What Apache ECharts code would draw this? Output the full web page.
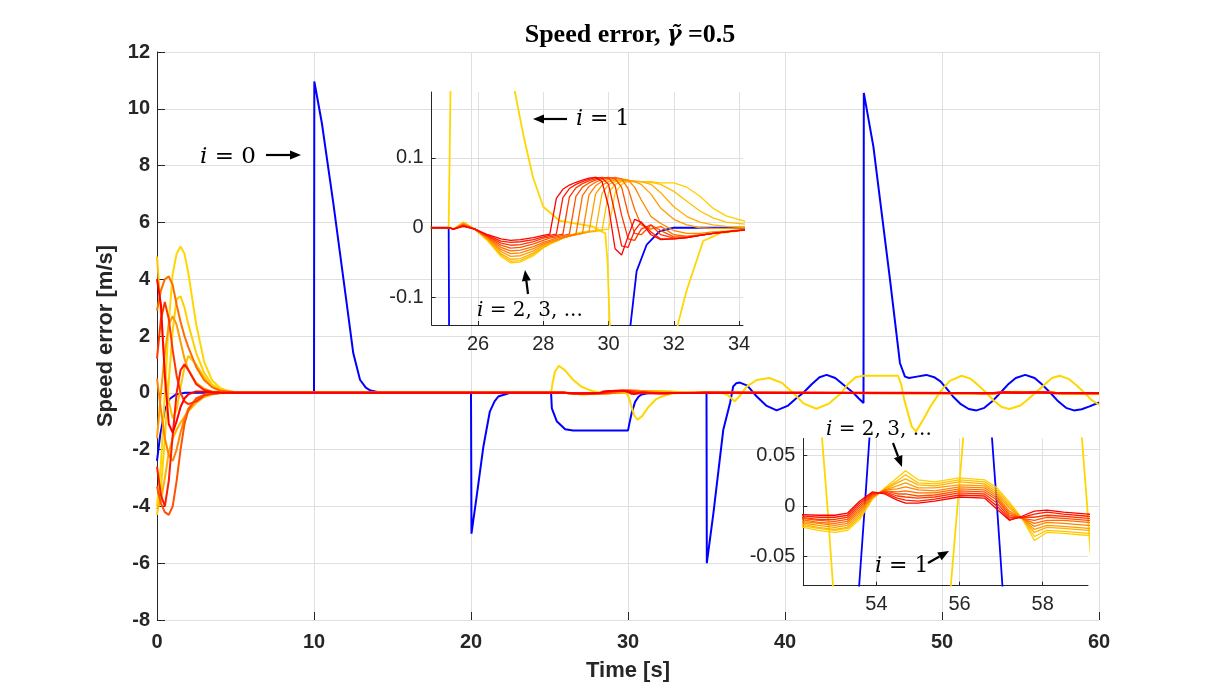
<!DOCTYPE html>
<html lang="en">
<head>
<meta charset="utf-8">
<title>Speed error</title>
<script src="https://cdn.jsdelivr.net/npm/echarts@6/dist/echarts.min.js"></script>
<style>html, body { margin: 0; padding: 0; background: #fff; }</style>
</head>
<body>
<div id="chart" style="width: 1215px; height: 697px;"></div>
<script>
// i = 0 (blue), [time s, speed error m/s]
const blueErr = [
  [0, -2.4], [0.2, -1.5], [0.5, -0.6], [0.8, -0.22], [1.2, -0.06], [1.8, 0],
  [10, 0], [10.02, 10.96], [10.5, 9.5], [11.23, 6.68], [12.08, 3.16], [12.5, 1.4], [12.93, 0.46], [13.3, 0.18], [13.6, 0.08], [14.2, 0.01],
  [20, 0], [20.03, -4.96], [20.36, -3.65], [20.79, -1.89], [21.2, -0.66], [21.5, -0.3], [21.74, -0.13], [22.5, 0],
  [25.1, 0], [25.15, -0.55], [25.46, -1.0], [26.0, -1.28], [26.5, -1.33], [30.0, -1.33], [30.1, -1.05], [30.23, -0.72],
  [30.45, -0.32], [30.67, -0.14], [30.86, -0.062], [31.17, -0.024], [31.57, -0.005], [32.0, 0],
  [35.0, 0], [35.02, -6.0], [35.44, -4.24], [36.07, -1.3], [36.5, -0.36], [36.7, 0.22], [36.9, 0.34], [37.13, 0.36],
  [37.6, 0.25], [38.2, -0.13], [38.8, -0.45], [39.47, -0.62], [40.2, -0.45], [40.7, -0.2], [41.17, 0], [41.7, 0.3],
  [42.2, 0.55], [42.65, 0.63], [43.2, 0.52], [43.8, 0.25], [44.35, 0], [44.7, -0.2], [45.0, -0.36],
  [45.02, 10.56], [45.63, 8.67], [46.69, 3.98], [47.32, 1.05], [47.64, 0.57], [47.9, 0.52], [48.4, 0.57], [49.0, 0.63],
  [49.5, 0.55], [49.9, 0.4], [50.3, 0.15], [50.7, -0.13], [51.2, -0.4], [51.7, -0.57], [52.2, -0.62], [52.7, -0.53],
  [53.2, -0.3], [53.72, 0], [54.2, 0.29], [54.7, 0.52], [55.3, 0.63], [55.9, 0.52], [56.4, 0.28], [56.9, 0],
  [57.4, -0.3], [57.9, -0.53], [58.4, -0.62], [58.9, -0.58], [59.4, -0.48], [60, -0.34]
];

// i = 1 (yellow)
const yellowErr = [
  [0, -4.0], [0.25, -2.5], [0.5, 0], [0.75, 2.5], [1.0, 4.2], [1.25, 4.9], [1.5, 5.15], [1.75, 4.9], [2.0, 4.2],
  [2.25, 3.3], [2.5, 2.4], [3.0, 1.1], [3.5, 0.45], [4.0, 0.18], [4.5, 0.07], [5.0, 0.02], [6.0, 0],
  [25.1, 0], [25.2, 0.35], [25.35, 0.75], [25.6, 0.95], [26.0, 0.78], [26.5, 0.46], [27.0, 0.23], [27.13, 0.194],
  [27.4, 0.13], [27.69, 0.071], [28.0, 0.030], [28.5, 0.010], [29.5, 0.002], [29.9, -0.008], [29.97, -0.05], [30.05, -0.16],
  [30.2, -0.45], [30.4, -0.8], [30.6, -0.95], [30.9, -0.82], [31.3, -0.5], [31.8, -0.22], [32.13, -0.137], [32.39, -0.09],
  [32.9, -0.019], [33.4, -0.008], [34.2, -0.003], [35.0, 0], [36.0, 0], [36.4, -0.1], [36.8, -0.3], [37.2, -0.05],
  [37.56, 0.22], [38.2, 0.45], [39.0, 0.52], [39.8, 0.35], [40.5, 0], [41.2, -0.38], [42.0, -0.56], [42.8, -0.38],
  [43.6, 0], [44.0, 0.3], [44.5, 0.55], [45.0, 0.6], [47.2, 0.6], [47.4, 0.3], [47.6, -0.25], [48.07, -1.19],
  [48.35, -1.36], [48.8, -0.95], [49.3, -0.45], [49.9, 0.05], [50.5, 0.42], [51.25, 0.6], [51.8, 0.5], [52.3, 0.27],
  [52.82, 0], [53.3, -0.28], [53.8, -0.5], [54.3, -0.57], [55.0, -0.45], [55.5, -0.22], [55.95, 0], [56.4, 0.22],
  [57.0, 0.52], [57.5, 0.6], [58.1, 0.48], [58.6, 0.25], [59.07, 0], [59.5, -0.24], [60, -0.42]
];

// i = 2, 3, ... share one time grid
const famTime = [
  0, 0.25, 0.5, 0.75, 1, 1.25, 1.5, 1.75, 2, 2.5, 3, 3.5, 4, 5, 6,
  24.6, 25.1, 25.25, 25.55, 25.9, 26.3, 26.7, 27.0, 27.3, 27.7,
  28.0, 28.2, 28.4, 28.6, 28.8, 29.0, 29.2, 29.4, 29.6, 29.8,
  30.0, 30.2, 30.4, 30.6, 30.8, 31.0, 31.3, 31.6, 32.0, 32.4,
  32.8, 33.2, 33.6, 34.2, 35,
  52.0, 52.6, 53.0, 53.3, 53.6, 53.9, 54.2, 54.5, 54.7, 55.0,
  55.4, 56.0, 56.6, 56.9, 57.2, 57.5, 57.8, 58.1, 58.5, 59.1, 60
];

const fam0 = [
  4.0, 3.1, 0.6, -1.1, -1.4, -1.0, -0.5, -0.2, -0.05, 0.05, 0.04, 0.02, 0.01, 0, 0,
  0, 0, -0.002, 0.002, -0.002, -0.010, -0.016, -0.018, -0.017, -0.014,
  -0.011, -0.009, 0.042, 0.055, 0.061, 0.065, 0.068, 0.071, 0.072, 0.066,
  0.030, -0.030, -0.039, -0.012, 0.012, 0.008, -0.010, -0.017, -0.016, -0.014,
  -0.011, -0.008, -0.006, -0.003, 0,
  -0.008, -0.009, -0.009, -0.007, 0.005, 0.014, 0.012, 0.006, 0.003, 0.003,
  0.005, 0.009, 0.008, -0.003, -0.014, -0.010, -0.005, -0.004, -0.006, -0.008, -0.009
];
const fam1 = [
  -2.6, -3.6, -4.0, -3.1, -1.5, 0.0, 0.8, 1.0, 0.8, 0.3, 0.1, 0.03, 0.01, 0, 0,
  0, 0, -0.002, 0.003, -0.002, -0.011, -0.019, -0.021, -0.020, -0.017,
  -0.013, -0.011, -0.009, 0.043, 0.056, 0.062, 0.066, 0.069, 0.072, 0.071,
  0.062, 0.020, -0.026, -0.028, -0.004, 0.008, -0.006, -0.016, -0.016, -0.014,
  -0.011, -0.008, -0.006, -0.003, 0,
  -0.009, -0.011, -0.011, -0.009, 0.003, 0.013, 0.013, 0.008, 0.006, 0.005,
  0.007, 0.011, 0.010, 0.000, -0.013, -0.011, -0.008, -0.006, -0.008, -0.010, -0.011
];
const fam2 = [
  1.2, 2.6, 3.2, 2.6, 1.5, 0.6, 0.0, -0.3, -0.4, -0.3, -0.1, -0.03, -0.01, 0, 0,
  0, 0, -0.002, 0.003, -0.002, -0.012, -0.022, -0.025, -0.024, -0.020,
  -0.015, -0.013, -0.011, -0.009, 0.044, 0.057, 0.063, 0.067, 0.070, 0.072,
  0.071, 0.060, 0.018, -0.016, -0.018, -0.002, 0.004, -0.010, -0.015, -0.014,
  -0.011, -0.008, -0.006, -0.003, 0,
  -0.010, -0.013, -0.013, -0.011, 0.001, 0.012, 0.014, 0.010, 0.009, 0.008,
  0.009, 0.013, 0.012, 0.003, -0.011, -0.011, -0.011, -0.009, -0.010, -0.012, -0.013
];
const fam3 = [
  -3.3, -3.9, -4.2, -4.3, -4.0, -3.1, -2.0, -1.1, -0.6, -0.2, -0.08, -0.03, -0.01, 0, 0,
  0, 0, -0.002, 0.004, -0.002, -0.013, -0.025, -0.029, -0.028, -0.023,
  -0.018, -0.015, -0.013, -0.011, -0.009, 0.045, 0.058, 0.064, 0.068, 0.071,
  0.072, 0.070, 0.058, 0.020, -0.008, -0.010, 0.004, -0.004, -0.013, -0.013,
  -0.011, -0.008, -0.006, -0.003, 0,
  -0.011, -0.014, -0.015, -0.013, -0.001, 0.011, 0.015, 0.012, 0.012, 0.010,
  0.011, 0.015, 0.014, 0.006, -0.009, -0.012, -0.014, -0.011, -0.012, -0.014, -0.015
];
const fam4 = [
  2.9, 3.6, 4.0, 4.1, 3.8, 3.1, 2.5, 2.0, 1.6, 0.9, 0.45, 0.2, 0.08, 0.01, 0,
  0, 0, -0.002, 0.004, -0.002, -0.014, -0.028, -0.033, -0.032, -0.027,
  -0.021, -0.018, -0.015, -0.013, -0.011, -0.009, 0.046, 0.059, 0.065, 0.069,
  0.071, 0.072, 0.070, 0.056, 0.026, 0.004, -0.002, 0.002, -0.010, -0.012,
  -0.010, -0.008, -0.006, -0.003, 0,
  -0.012, -0.016, -0.017, -0.015, -0.003, 0.010, 0.015, 0.014, 0.015, 0.013,
  0.013, 0.017, 0.016, 0.008, -0.007, -0.012, -0.017, -0.014, -0.014, -0.016, -0.017
];
const fam5 = [
  0.5, -0.6, -1.6, -2.2, -2.4, -2.0, -1.4, -0.9, -0.55, -0.2, -0.07, -0.02, -0.01, 0, 0,
  0, 0, -0.002, 0.005, -0.002, -0.015, -0.031, -0.037, -0.036, -0.030,
  -0.023, -0.020, -0.017, -0.014, -0.012, -0.010, -0.008, 0.047, 0.060, 0.066,
  0.069, 0.070, 0.070, 0.068, 0.058, 0.040, 0.016, 0.006, -0.004, -0.008,
  -0.008, -0.006, -0.005, -0.002, 0,
  -0.014, -0.017, -0.019, -0.017, -0.005, 0.009, 0.016, 0.017, 0.019, 0.016,
  0.015, 0.019, 0.018, 0.010, -0.005, -0.012, -0.020, -0.016, -0.017, -0.019, -0.019
];
const fam6 = [
  -1.6, 0.0, 1.4, 2.4, 2.7, 2.4, 1.8, 1.2, 0.8, 0.35, 0.14, 0.05, 0.02, 0, 0,
  0, 0, -0.002, 0.006, -0.002, -0.016, -0.034, -0.041, -0.040, -0.033,
  -0.025, -0.021, -0.018, -0.015, -0.012, -0.010, -0.008, -0.006, 0.048, 0.061,
  0.066, 0.068, 0.068, 0.068, 0.066, 0.062, 0.048, 0.028, 0.012, 0.004,
  0.000, -0.001, -0.001, 0, 0,
  -0.015, -0.019, -0.021, -0.019, -0.007, 0.009, 0.016, 0.020, 0.023, 0.018,
  0.018, 0.021, 0.020, 0.012, -0.002, -0.012, -0.023, -0.019, -0.020, -0.022, -0.021
];
const fam7 = [
  -4.1, -3.8, -3.0, -2.1, -1.6, -1.3, -1.05, -0.85, -0.65, -0.35, -0.15, -0.06, -0.02, 0, 0,
  0, 0, -0.002, 0.007, -0.002, -0.017, -0.037, -0.045, -0.044, -0.036,
  -0.027, -0.022, -0.019, -0.015, -0.012, -0.010, -0.008, -0.006, -0.005, 0.049,
  0.062, 0.066, 0.067, 0.067, 0.067, 0.066, 0.062, 0.050, 0.030, 0.016,
  0.008, 0.004, 0.002, 0.001, 0,
  -0.016, -0.021, -0.023, -0.021, -0.009, 0.008, 0.017, 0.023, 0.027, 0.021,
  0.020, 0.024, 0.022, 0.014, 0.000, -0.012, -0.026, -0.021, -0.022, -0.024, -0.024
];
const fam8 = [
  4.8, 2.8, 0.9, -0.3, -0.9, -0.6, 0.2, 0.9, 1.3, 1.0, 0.55, 0.22, 0.08, 0.01, 0,
  0, 0, -0.002, 0.007, -0.002, -0.018, -0.039, -0.048, -0.047, -0.038,
  -0.028, -0.023, -0.019, -0.015, -0.012, -0.009, -0.007, -0.006, -0.005, -0.004,
  0.050, 0.062, 0.066, 0.066, 0.066, 0.066, 0.065, 0.062, 0.052, 0.038,
  0.024, 0.014, 0.008, 0.005, 0,
  -0.018, -0.022, -0.024, -0.022, -0.011, 0.007, 0.017, 0.025, 0.031, 0.023,
  0.022, 0.026, 0.024, 0.016, 0.002, -0.012, -0.030, -0.024, -0.025, -0.027, -0.026
];
const fam9 = [
  -4.3, -3.4, -1.6, 0.4, 2.2, 3.3, 3.4, 3.0, 2.4, 1.4, 0.7, 0.3, 0.12, 0.02, 0,
  0, 0, -0.002, 0.008, -0.002, -0.019, -0.041, -0.050, -0.049, -0.040,
  -0.029, -0.024, -0.019, -0.015, -0.011, -0.008, -0.006, -0.005, -0.004, -0.003,
  -0.002, 0.050, 0.062, 0.066, 0.066, 0.066, 0.066, 0.064, 0.064, 0.058,
  0.045, 0.028, 0.017, 0.009, 0,
  -0.019, -0.024, -0.026, -0.024, -0.013, 0.007, 0.018, 0.028, 0.035, 0.026,
  0.024, 0.028, 0.026, 0.018, 0.004, -0.012, -0.034, -0.026, -0.027, -0.029, -0.028
];
const family = [fam0, fam1, fam2, fam3, fam4, fam5, fam6, fam7, fam8, fam9];
const famColors = ['#ff0000', '#ff1c00', '#ff3800', '#ff5200', '#ff6c00',
                   '#ff8400', '#ff9c00', '#ffb000', '#ffc200', '#ffd000'];

// tick labels
const zoom1XTicks = [26, 28, 30, 32, 34];
const zoom1YTicks = [-0.1, 0, 0.1];
const zoom2XTicks = [54, 56, 58];
const zoom2YTicks = [-0.05, 0, 0.05];

const dark = '#262626';
const gridColor = '#dfdfdf';
const sans = 'Liberation Sans, Arial, sans-serif';
const serif = 'DejaVu Serif, serif';

function famPairs(vals) {
  return famTime.map((t, j) => [t, vals[j]]);
}

function insetAxis(idx, min, max, ticks, margin) {
  return {
    gridIndex: idx, type: 'value', min: min, max: max,
    axisLine: { show: true, onZero: false, lineStyle: { color: dark, width: 1 } },
    axisTick: { show: true, inside: true, length: 4, customValues: ticks, lineStyle: { color: dark } },
    axisLabel: { customValues: ticks, fontFamily: sans, fontSize: 20, color: dark, margin: margin },
    splitLine: { show: true, lineStyle: { color: gridColor } }
  };
}

const series = [];
[0, 1, 2].forEach(function (g) {
  const inset = g > 0;
  const base = { type: 'line', xAxisIndex: g, yAxisIndex: g, symbol: 'none', silent: true, animation: false, clip: true };
  series.push(Object.assign({}, base, { data: blueErr, lineStyle: { color: '#0000ff', width: inset ? 1.8 : 2 } }));
  series.push(Object.assign({}, base, { data: yellowErr, lineStyle: { color: '#ffd700', width: inset ? 1.8 : 2 } }));
  for (let k = family.length - 1; k >= 0; k--) {
    series.push(Object.assign({}, base, { data: famPairs(family[k]), lineStyle: { color: famColors[k], width: inset ? 1.3 : 2 } }));
  }
});

// annotations
function arrow(x1, y1, x2, y2) {
  const a = Math.atan2(y2 - y1, x2 - x1), L = 11, W = 4.5;
  const bx = x2 - L * Math.cos(a), by = y2 - L * Math.sin(a);
  const px = -Math.sin(a) * W, py = Math.cos(a) * W;
  return [
    { type: 'line', z: 100, shape: { x1: x1, y1: y1, x2: bx, y2: by }, style: { stroke: '#000', lineWidth: 2.2 } },
    { type: 'polygon', z: 100, shape: { points: [[x2, y2], [bx + px, by + py], [bx - px, by - py]] }, style: { fill: '#000' } }
  ];
}
function note(x, y, rest, size) {
  return {
    type: 'text', x: x, y: y, z: 100,
    style: {
      text: '{it|i}' + rest, fontFamily: serif, fontSize: size, fill: '#000',
      align: 'left', verticalAlign: 'middle',
      rich: { it: { fontFamily: serif, fontSize: size, fontStyle: 'italic', fill: '#000' } }
    }
  };
}

const graphics = [
  {
    type: 'text', x: 630, y: 35, z: 100,
    style: {
      text: '{b|Speed error, }{g|γ̃}{b| =0.5}', align: 'center', verticalAlign: 'middle',
      rich: {
        b: { fontFamily: 'Liberation Serif, serif', fontWeight: 'bold', fontSize: 26, fill: '#000' },
        g: { fontFamily: 'DejaVu Serif, serif', fontWeight: 'bold', fontStyle: 'italic', fontSize: 22, fill: '#000' }
      }
    }
  },
  note(200, 157, ' = 0', 23),
  note(576, 119, ' = 1', 22),
  note(477, 311, ' = 2, 3, ...', 20),
  note(826, 430, ' = 2, 3, ...', 20),
  note(875, 566, ' = 1', 22)
].concat(
  arrow(266, 155, 301, 155),
  arrow(567, 119, 533, 119),
  arrow(528, 294, 525, 270),
  arrow(893, 443, 902, 467),
  arrow(928, 563, 949, 551)
);

const chart = echarts.init(document.getElementById('chart'), null, { renderer: 'canvas' });
chart.setOption({
  animation: false,
  backgroundColor: '#fff',
  grid: [
    { left: 157, top: 52, width: 942, height: 568, outerBoundsMode: 'none' },
    { left: 431.7, top: 92, width: 311.3, height: 233, outerBoundsMode: 'none' },
    { left: 803.3, top: 438.5, width: 284.7, height: 147.2, outerBoundsMode: 'none' }
  ],
  xAxis: [
    {
      gridIndex: 0, type: 'value', min: 0, max: 60, interval: 10,
      axisLine: { show: false, onZero: false },
      axisTick: { show: true, inside: true, length: 8, lineStyle: { color: dark } },
      axisLabel: { fontFamily: sans, fontWeight: 'bold', fontSize: 20, color: dark, margin: 12 },
      splitLine: { show: true, lineStyle: { color: gridColor } },
      name: 'Time [s]', nameLocation: 'middle', nameGap: 40,
      nameTextStyle: { fontFamily: sans, fontWeight: 'bold', fontSize: 22, color: dark }
    },
    insetAxis(1, 24.58, 34.12, zoom1XTicks, 9),
    insetAxis(2, 52.24, 59.09, zoom2XTicks, 9)
  ],
  yAxis: [
    {
      gridIndex: 0, type: 'value', min: -8, max: 12, interval: 2,
      axisLine: { show: true, onZero: false, lineStyle: { color: dark, width: 1 } },
      axisTick: { show: true, inside: true, length: 8, lineStyle: { color: dark } },
      axisLabel: { fontFamily: sans, fontWeight: 'bold', fontSize: 20, color: dark, margin: 7 },
      splitLine: { show: true, lineStyle: { color: gridColor } },
      name: 'Speed error [m/s]', nameLocation: 'middle', nameGap: 34,
      nameTextStyle: { fontFamily: sans, fontWeight: 'bold', fontSize: 22, color: dark }
    },
    insetAxis(1, -0.139, 0.194, zoom1YTicks, 8),
    insetAxis(2, -0.0786, 0.0668, zoom2YTicks, 8)
  ],
  series: series,
  graphic: graphics
});
</script>
</body>
</html>
